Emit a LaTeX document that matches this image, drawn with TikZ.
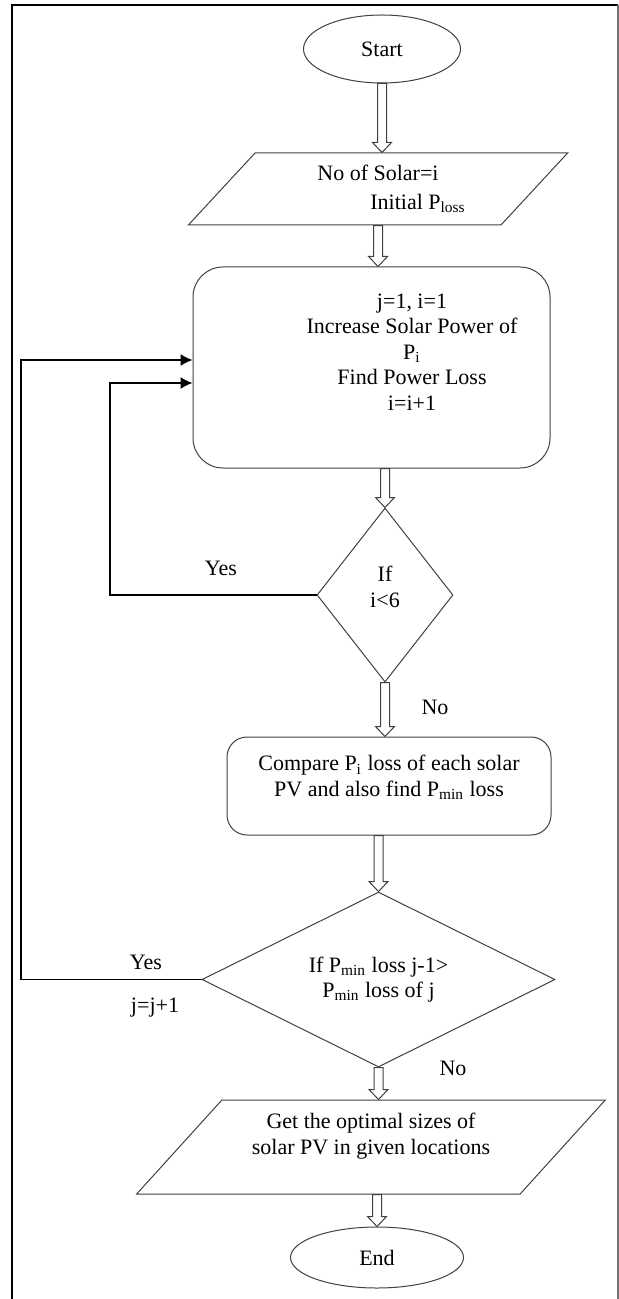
\documentclass[tikz,border=0pt]{standalone}
\usepackage{fontspec}
\setmainfont{Liberation Serif}
\usepackage{tikz}
\usetikzlibrary{shapes.geometric,arrows.meta,calc,positioning}

\begin{document}
\begin{tikzpicture}[x=0.5pt,y=-0.5pt,
    font=\fontsize{11pt}{12.8pt}\selectfont,
    shapeline/.style={draw=black!75,line width=0.5pt},
    termbox/.style={shapeline,ellipse,inner sep=0pt},
    iobox/.style={shapeline,trapezium,trapezium left angle=45,trapezium right angle=135,
      trapezium stretches=true,inner sep=0pt,align=center},
    procbox/.style={shapeline,rectangle,inner sep=0pt,align=center},
    decbox/.style={shapeline,diamond,aspect=1,inner sep=0pt,align=center},
    blockarrow/.style={draw=black!75,line width=0.5pt,fill=white,
      to path={let \p1=(\tikztostart),\p2=(\tikztotarget) in
      (\x2-2.25pt,\y1) -- (\x2-2.25pt,\y2+5pt) -- (\x2-4.75pt,\y2+5pt) -- (\x2,\y2)
      -- (\x2+4.75pt,\y2+5pt) -- (\x2+2.25pt,\y2+5pt) -- (\x2+2.25pt,\y1) -- cycle}},
    loopline/.style={draw=black,line width=0.6pt,-{Latex[length=6pt,width=6pt]}},
    lbl/.style={inner sep=0pt}]
  \useasboundingbox (0,0) rectangle (619,1299);
  % frame
  \draw[line width=1pt] (12,1299) -- (12,5) -- (618,5);
  \draw[line width=1pt,black!55] (618,5) -- (618,1299);
  % start and input
  \draw (382,49) node[termbox,minimum width=78.5pt,minimum height=34pt](start){Start};
  \draw (378,189) node[iobox,minimum width=190pt,minimum height=36pt](inp)
    {No of Solar=i\\[1.5pt]\hspace*{40pt}Initial P\textsubscript{loss}};
  % main box
  \draw (371.5,367.5) node[procbox,rounded corners=15pt,minimum width=178.5pt,minimum height=100.5pt](proc){};
  \draw (412,352) node[align=center](proctxt)
    {j=1, i=1\\Increase Solar Power of\\P\textsubscript{i}\\Find Power Loss\\i=i+1};
  % first decision
  \draw (385,595) node[decbox,text depth=8.5pt,minimum width=68pt,minimum height=87pt](dec1){If\\i<6};
  % compare
  \draw (389,786) node[procbox,rounded corners=10pt,text depth=10pt,minimum width=162pt,minimum height=49pt](cmp)
    {Compare P\textsubscript{i} loss of each solar\\PV and also find P\textsubscript{min} loss};
  % second decision
  \draw (378.5,979.5) node[decbox,aspect=2,minimum width=176.5pt,minimum height=87.5pt](dec2)
    {If P\textsubscript{min} loss j-1>\\P\textsubscript{min} loss of j};
  % output and end
  \draw (371,1147) node[iobox,text depth=13.5pt,minimum width=235pt,minimum height=47pt](outp)
    {Get the optimal sizes of\\solar PV in given locations};
  \draw (377,1257.5) node[termbox,minimum width=86.5pt,minimum height=30.5pt](stop){End};
  % hollow arrows
  \draw[blockarrow] (start.south) to (start.south |- inp.north);
  \draw[blockarrow] (inp.south) to (inp.south |- proc.north);
  \draw[blockarrow] (proc.south -| dec1.north) to (dec1.north);
  \draw[blockarrow] (dec1.south) to (dec1.south |- cmp.north);
  \draw[blockarrow] (cmp.south -| dec2.north) to (dec2.north);
  \draw[blockarrow] (dec2.south) to (dec2.south |- outp.north);
  \draw[blockarrow] (outp.south -| stop.north) to (stop.north);
  % loops back
  \coordinate (loopa) at (110,383);
  \coordinate (loopb) at (21,360);
  \draw[loopline] (dec1.west) -| (loopa) -- (loopa -| proc.west);
  \draw[loopline] (dec2.west) -| (loopb) -- (loopb -| proc.west);
  % labels
  \draw (221,568) node[lbl](yes1){Yes};
  \draw (435,707) node[lbl](no1){No};
  \draw (146,962) node[lbl](yes2){Yes};
  \draw (155,1008) node[lbl](jinc){j=j+1};
  \draw (453,1068) node[lbl](no2){No};
\end{tikzpicture}
\end{document}
